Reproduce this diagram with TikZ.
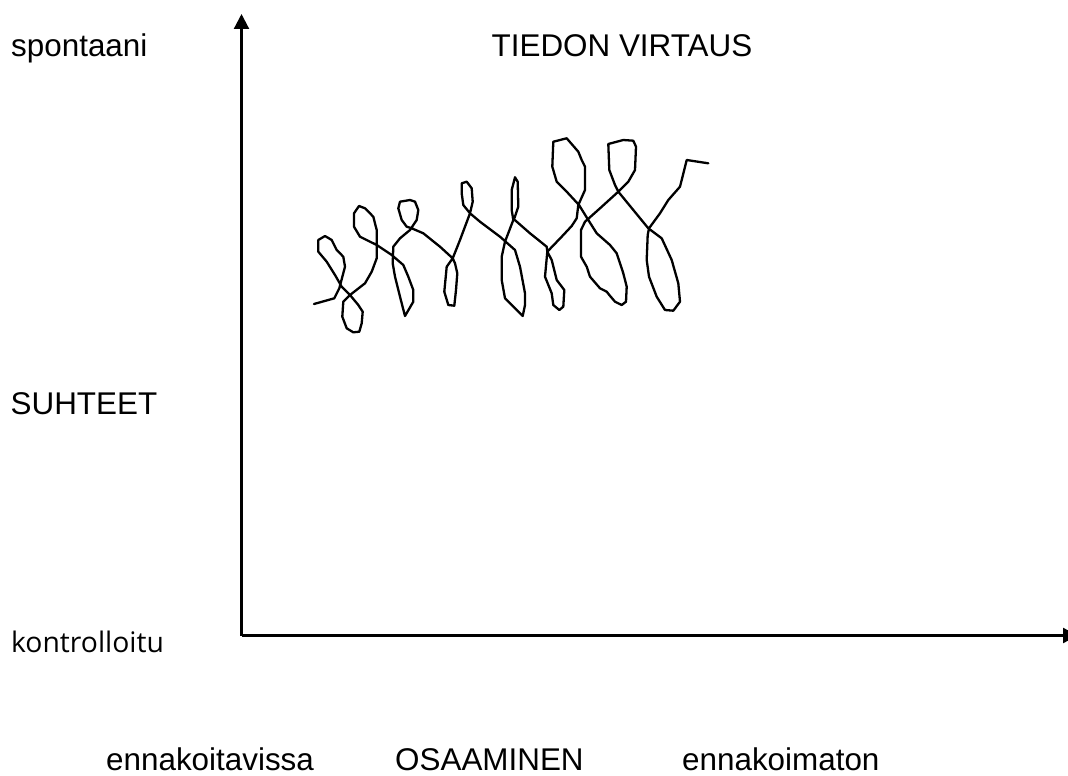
\documentclass[tikz,border=0pt]{standalone}
\usepackage{fontspec}
\setmainfont{Liberation Sans}
\newfontfamily\uifont{Open Sans}
\usetikzlibrary{arrows.meta}
\begin{document}
\begin{tikzpicture}[x=1pt,y=-1pt,
  axis/.style={line width=2.2pt,-{Triangle[length=15pt,width=15pt]}},
  scribble/.style={line width=2.3pt,line join=round,line cap=round},
  label/.style={anchor=base west,inner sep=0pt,font=\fontsize{31.4}{36}\selectfont}]
\useasboundingbox[fill=white] (0,0) rectangle (1068,776);

% axes
\coordinate (origin) at (241.5,635.5);
\coordinate (ytip) at (241.5,14);
\coordinate (xtip) at (1078,635.5);
\draw[axis] (origin) -- (ytip);
\draw[axis] (origin) -- (xtip);

% labels
\node[label] (spont) at (11,56.3) {spontaani};
\node[label] (title) at (491.5,56.7) {TIEDON VIRTAUS};
\node[label] (rel) at (10.5,414.3) {SUHTEET};
\node[label,font=\uifont\fontsize{28.3}{34}\selectfont] (ctrl) at (11,652.5) {kontrolloitu};
\node[label] (pred) at (106,770) {ennakoitavissa};
\node[label] (skill) at (395,770) {OSAAMINEN};
\node[label] (unpred) at (682,770) {ennakoimaton};

% freehand scribble of information flow
\draw[scribble] (314.0,304.0) -- (334.3,298.3) -- (339.3,288.3) -- (345.0,266.7)
 -- (343.3,256.7) -- (336.7,250.0) -- (331.7,240.0) -- (325.0,236.0) -- (318.3,240.0)
 -- (318.3,251.7) -- (326.7,261.7) -- (335.0,275.0) -- (341.7,286.7) -- (350.0,295.0)
 -- (358.3,305.0) -- (362.7,311.7) -- (361.7,323.3) -- (359.3,331.7) -- (353.3,332.3)
 -- (346.7,328.3) -- (342.3,316.7) -- (343.3,301.7) -- (350.0,295.0) -- (365.0,283.3)
 -- (371.7,271.7) -- (376.7,258.3) -- (376.7,230.0) -- (373.3,216.7) -- (365.0,208.3)
 -- (359.0,206.0) -- (354.0,213.3) -- (354.0,226.7) -- (360.0,236.7) -- (376.7,245.0)
 -- (391.7,255.0) -- (403.3,265.0) -- (408.3,276.7) -- (413.3,290.0) -- (413.3,301.7)
 -- (405.0,316.0) -- (400.0,296.7) -- (395.0,276.7) -- (392.7,263.3) -- (393.3,246.7)
 -- (400.0,238.3) -- (410.0,230.0) -- (416.7,220.0) -- (418.3,210.0) -- (415.0,201.7)
 -- (410.0,200.0) -- (400.0,201.7) -- (398.3,208.3) -- (401.7,220.0) -- (406.7,226.7)
 -- (411.7,228.3) -- (423.3,233.3) -- (440.0,246.7) -- (452.7,258.3) -- (446.7,266.7)
 -- (444.3,291.7) -- (448.3,305.0) -- (454.3,305.7) -- (456.0,290.0) -- (457.3,273.3)
 -- (455.0,263.3) -- (452.7,258.3) -- (460.0,240.0) -- (470.0,213.3) -- (472.7,201.7)
 -- (471.7,188.3) -- (466.7,181.7) -- (461.7,183.3) -- (461.7,193.3) -- (463.3,205.0)
 -- (470.0,213.3) -- (480.0,221.7) -- (500.0,236.7) -- (515.0,250.0) -- (520.0,266.7)
 -- (525.0,293.3) -- (525.0,305.0) -- (522.7,316.0) -- (505.0,298.3) -- (501.7,280.0)
 -- (501.7,256.7) -- (505.0,241.7) -- (513.3,220.0) -- (511.7,210.0) -- (511.7,190.0)
 -- (515.0,177.3) -- (517.7,181.7) -- (518.3,206.7) -- (514.0,219.3) -- (530.0,233.3)
 -- (546.7,246.7) -- (547.3,251.7) -- (545.0,276.7) -- (551.7,293.3) -- (553.3,305.0)
 -- (559.3,310.0) -- (563.3,306.7) -- (564.3,290.0) -- (556.7,280.0) -- (551.7,260.0)
 -- (547.3,251.7) -- (561.7,236.7) -- (571.7,226.0) -- (576.7,218.3) -- (578.3,205.0)
 -- (585.0,190.0) -- (585.0,166.7) -- (581.7,160.0) -- (578.3,151.7) -- (566.7,138.3)
 -- (553.3,141.7) -- (552.3,166.7) -- (556.7,181.7) -- (566.7,191.7) -- (579.0,205.0)
 -- (588.3,220.0) -- (596.7,233.3) -- (610.0,245.0) -- (616.7,253.3) -- (623.3,273.3)
 -- (626.7,286.7) -- (626.0,301.7) -- (621.7,305.0) -- (615.0,301.7) -- (609.3,295.0)
 -- (606.7,291.7) -- (600.0,288.3) -- (590.0,276.7) -- (586.7,266.7) -- (581.0,256.7)
 -- (581.0,230.0) -- (585.0,221.7) -- (600.0,208.3) -- (618.3,191.7) -- (628.3,181.7)
 -- (635.0,170.0) -- (636.0,146.7) -- (633.3,140.7) -- (623.3,140.0) -- (608.3,144.0)
 -- (609.3,170.0) -- (615.0,185.0) -- (618.3,191.7) -- (633.3,210.0) -- (648.3,228.3)
 -- (661.7,238.3) -- (671.7,260.0) -- (678.3,283.3) -- (680.0,301.7) -- (673.3,310.7)
 -- (665.0,310.0) -- (656.7,296.7) -- (649.0,276.7) -- (646.7,260.0) -- (647.7,235.0)
 -- (649.0,228.3) -- (660.0,213.3) -- (668.3,200.0) -- (680.0,186.7) -- (686.7,160.0)
 -- (708.3,163.3);
\end{tikzpicture}
\end{document}
